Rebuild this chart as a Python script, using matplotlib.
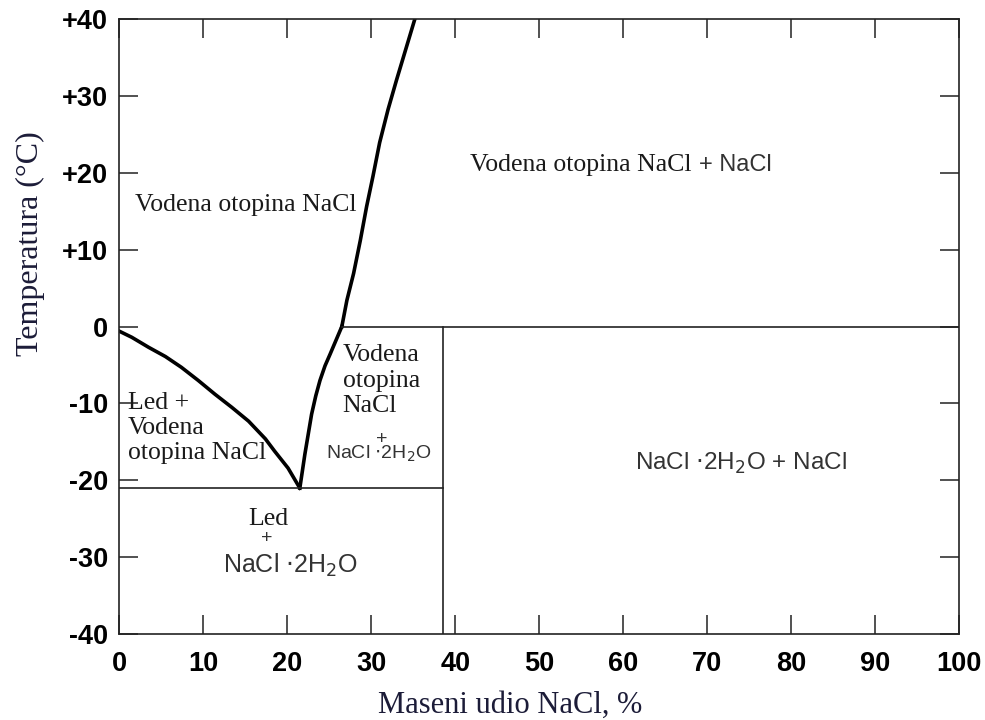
import matplotlib.pyplot as plt
import numpy as np

# granice faza (procitano sa slike)
ice_x = [0, 1.5, 3.5, 5.5, 7.4, 9.4, 11.4, 13.4, 15.4, 17.4, 18.5, 20.1, 21.5]
ice_y = [-0.6, -1.4, -2.7, -3.9, -5.3, -7.0, -8.8, -10.5, -12.3, -14.6,
         -16.2, -18.4, -21]

dih_x = [21.5, 21.8, 22.1, 22.5, 22.9, 23.4, 23.9, 24.5, 25.1, 25.8, 26.5]
dih_y = [-21, -18.8, -16.6, -14.0, -11.4, -9.0, -7.0, -5.1, -3.6, -1.8, 0]

liq_x = [26.5, 27.1, 27.9, 28.7, 29.45, 30.2, 31.0, 32.0, 33.0, 35.2]
liq_y = [0, 3.4, 6.9, 11.2, 15.6, 19.5, 23.9, 28.2, 32, 40]

eutectic_T = -21
peritectic_T = 0
dihydrate_x = 38.5

x_ticks = [0, 10, 20, 30, 40, 50, 60, 70, 80, 90, 100]
y_ticks = [-40, -30, -20, -10, 0, 10, 20, 30, 40]
y_labels = ["-40", "-30", "-20", "-10", "0", "+10", "+20", "+30", "+40"]

serif = "Liberation Serif"
sans = "Liberation Sans"

fig = plt.figure(figsize=(9.85, 7.2), dpi=100)
ax = fig.add_axes([0.121, 0.119, 0.853, 0.855])

# krivulje
ax.plot(ice_x, ice_y, color="black", lw=2.6, solid_joinstyle="round")
ax.plot(dih_x, dih_y, color="black", lw=2.6, solid_joinstyle="round")
ax.plot(liq_x, liq_y, color="black", lw=2.6, solid_joinstyle="round")

# tanke linije
ax.plot([0, dihydrate_x], [eutectic_T, eutectic_T], color="#222222", lw=1.2)
ax.plot([liq_x[0], 100], [peritectic_T, peritectic_T], color="#222222", lw=1.2)
ax.plot([dihydrate_x, dihydrate_x], [-40, peritectic_T], color="#222222", lw=1.2)

ax.set_xlim(0, 100)
ax.set_ylim(-40, 40)
ax.set_xticks(x_ticks)
ax.set_xticklabels([str(v) for v in x_ticks])
ax.set_yticks(y_ticks)
ax.set_yticklabels(y_labels)
ax.tick_params(direction="in", length=13.5, width=1.1, top=True, right=True,
               color="#222222")
ax.tick_params(axis="x", pad=12)
ax.tick_params(axis="y", pad=8)
for lab in ax.get_xticklabels() + ax.get_yticklabels():
    lab.set_fontfamily(sans)
    lab.set_fontweight("bold")
    lab.set_fontsize(19.5)
for s in ax.spines.values():
    s.set_linewidth(1.2)
    s.set_color("#222222")

ax.set_xlabel("Maseni udio NaCl, %", fontfamily=serif, fontsize=22,
              color="#1c1c38")
ax.set_ylabel("Temperatura (°C)", fontfamily=serif, fontsize=23,
              color="#1c1c38")
ax.xaxis.set_label_coords(0.465, -0.092)
ax.yaxis.set_label_coords(-0.088, 0.635)

# natpisi podrucja
tc = "#1a1a1a"
sc = "#333333"
ax.text(1.9, 15.8, "Vodena otopina NaCl", fontfamily=serif, fontsize=18.5,
        color=tc, va="center", ha="left")
ax.text(41.7, 21.0, "Vodena otopina NaCl", fontfamily=serif, fontsize=18.5,
        color=tc, va="center", ha="left")
ax.text(69.0, 21.0, "+ NaCl", fontfamily=sans, fontsize=17,
        color=sc, va="center", ha="left")
ax.text(1.07, -13.2, "Led +\nVodena\notopina NaCl", fontfamily=serif,
        fontsize=18.5, color=tc, va="center", ha="left")
ax.text(26.6, -7.06, "Vodena\notopina\nNaCl", fontfamily=serif,
        fontsize=18.5, color=tc, va="center", ha="left")
ax.text(31.2, -14.7, "+", fontfamily=sans, fontsize=14, color=sc,
        va="center", ha="center")
ax.text(30.9, -16.6, r"NaCl $\cdot$2H$_2$O", fontfamily=sans, fontsize=14,
        color=sc, va="center", ha="center")
ax.text(17.7, -25.0, "Led", fontfamily=serif, fontsize=18.5, color=tc,
        va="center", ha="center")
ax.text(17.6, -27.5, "+", fontfamily=sans, fontsize=14, color=sc,
        va="center", ha="center")
ax.text(20.4, -31.0, r"NaCl $\cdot$2H$_2$O", fontfamily=sans, fontsize=18,
        color=sc, va="center", ha="center")
ax.text(74.0, -17.8, r"NaCl $\cdot$2H$_2$O + NaCl", fontfamily=sans,
        fontsize=17.5, color=sc, va="center", ha="center")

fig.savefig("out.png", dpi=100)
